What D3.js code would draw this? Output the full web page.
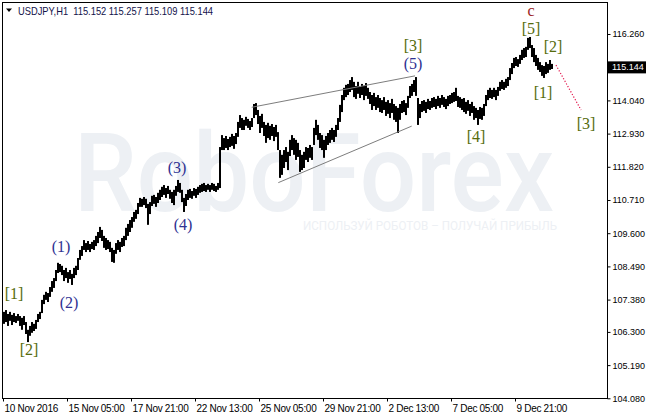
<!DOCTYPE html>
<html><head><meta charset="utf-8">
<script src="https://cdn.jsdelivr.net/npm/d3@7"></script>
<style>html,body{margin:0;padding:0;background:#fff;overflow:hidden}svg{display:block}</style>
</head><body><svg id="c" width="646" height="414"></svg>
<script>
// ---- data (2-hour bars, USDJPY H1 chart) ----
const symbolTitle = "USDJPY,H1";
const lastOHLC = [115.152, 115.257, 115.109, 115.144];
const hoursPerBar = 2;
const barHigh = [
106.97,107.03,106.90,106.97,106.87,106.93,106.83,106.90,106.83,106.77,
106.83,106.63,106.37,106.50,106.63,106.57,106.70,106.90,106.97,107.37,
107.54,107.64,107.60,107.80,108.00,108.10,108.37,108.61,108.57,108.51,
108.37,108.44,108.30,108.37,108.24,108.44,108.51,108.77,109.04,109.17,
109.37,109.27,109.34,109.24,109.31,109.37,109.51,109.64,109.81,109.71,
109.51,109.44,109.37,109.31,109.11,109.04,109.27,109.37,109.31,109.44,
109.51,109.78,109.91,110.04,110.14,110.31,110.38,110.61,110.78,110.75,
110.81,110.75,110.58,110.64,110.85,110.88,110.81,110.95,111.05,111.15,
111.21,111.11,111.18,111.05,110.98,111.05,111.18,111.38,111.28,111.05,
110.78,110.91,111.05,111.08,111.01,111.11,111.08,111.15,111.21,111.25,
111.28,111.21,111.25,111.21,111.28,111.25,111.18,111.28,112.48,112.88,
112.78,112.85,112.75,112.82,112.92,112.85,112.95,113.32,113.55,113.45,
113.39,113.49,113.42,113.35,113.45,113.92,113.95,113.72,113.52,113.59,
113.32,113.22,113.29,113.19,113.25,113.15,113.22,112.98,112.38,112.22,
112.38,112.48,112.32,112.72,112.88,112.78,112.72,112.62,112.38,112.22,
112.32,112.48,112.45,112.55,112.48,113.12,113.39,113.22,112.95,112.88,
112.72,112.85,112.95,113.05,113.12,113.05,113.22,113.45,113.89,114.22,
114.46,114.56,114.59,114.72,114.82,114.66,114.52,114.66,114.49,114.59,
114.52,114.62,114.46,114.32,114.22,114.29,114.15,114.22,114.12,114.05,
114.15,113.99,114.05,113.95,114.09,113.92,113.85,113.79,113.92,114.02,
114.05,113.95,114.19,114.52,114.59,114.72,114.82,114.12,113.92,114.02,
114.05,113.99,114.09,114.02,114.12,114.15,114.09,114.19,114.12,114.22,
114.15,114.09,114.19,114.22,114.29,114.32,114.46,114.19,114.15,114.09,
114.12,113.99,114.05,113.92,113.99,113.85,113.79,113.72,113.82,113.79,
113.92,114.22,114.39,114.46,114.39,114.46,114.39,114.49,114.66,114.72,
114.66,114.76,114.82,115.12,115.29,115.46,115.49,115.42,115.56,115.73,
115.79,115.83,116.13,116.16,115.89,115.79,115.56,115.46,115.32,115.22,
115.19,115.32,115.26,115.39,115.26];
const barLow = [
106.57,106.63,106.50,106.67,106.53,106.63,106.60,106.67,106.50,106.37,
106.53,106.23,105.96,106.17,106.27,106.33,106.40,106.63,106.73,106.93,
107.23,107.37,107.30,107.47,107.64,107.77,108.00,108.27,108.30,108.20,
108.00,108.10,107.94,108.07,107.87,108.10,108.20,108.37,108.71,108.84,
109.04,108.97,109.04,108.97,109.07,109.04,109.17,109.27,109.44,109.34,
109.11,109.04,109.07,108.97,108.64,108.61,108.91,109.04,108.97,109.14,
109.17,109.37,109.51,109.64,109.78,109.98,110.08,110.24,110.48,110.48,
110.54,110.44,109.88,110.24,110.51,110.58,110.48,110.61,110.71,110.81,
110.88,110.78,110.91,110.75,110.61,110.54,110.85,110.98,110.95,110.64,
110.31,110.51,110.71,110.78,110.75,110.85,110.78,110.88,110.95,110.98,
111.01,110.98,111.05,110.98,111.05,111.01,110.98,111.05,111.11,112.38,
112.38,112.45,112.38,112.48,112.52,112.42,112.58,112.82,113.12,113.05,
113.05,113.19,113.12,113.05,113.15,113.45,113.55,113.25,112.95,113.12,
112.85,112.62,112.78,112.72,112.85,112.68,112.82,112.38,111.45,111.55,
111.78,111.98,111.71,112.18,112.38,112.22,112.05,112.15,111.65,111.71,
111.78,112.05,111.98,112.12,112.05,112.55,112.88,112.72,112.45,112.38,
112.12,112.38,112.55,112.62,112.72,112.65,112.82,113.05,113.32,113.65,
114.05,114.15,114.22,114.32,114.39,114.15,114.09,114.26,114.12,114.22,
114.05,114.19,114.09,113.92,113.72,113.85,113.72,113.79,113.65,113.62,
113.72,113.52,113.59,113.45,113.62,113.39,113.32,112.95,113.39,113.62,
113.65,113.55,113.79,114.12,114.19,114.32,114.19,113.22,113.45,113.65,
113.69,113.62,113.75,113.72,113.79,113.82,113.75,113.85,113.79,113.89,
113.82,113.75,113.85,113.92,113.95,113.99,114.02,113.82,113.79,113.72,
113.65,113.59,113.69,113.52,113.62,113.39,113.45,113.22,113.42,113.39,
113.52,113.85,114.05,114.12,114.09,114.15,114.05,114.19,114.36,114.42,
114.39,114.46,114.52,114.72,114.92,115.12,115.19,115.16,115.26,115.39,
115.46,115.49,115.73,115.79,115.49,115.32,115.19,115.06,114.99,114.86,
114.79,114.92,114.96,115.06,115.09];
const timeTickHours = [0,64,128,192,256,320,384,448,512];
const timeTickLabels = ["10 Nov 2016","15 Nov 05:00","17 Nov 21:00","22 Nov 13:00","25 Nov 05:00","29 Nov 21:00","2 Dec 13:00","7 Dec 05:00","9 Dec 21:00"];
const priceTicks = [116.26,114.04,112.93,111.82,110.71,109.60,108.49,107.38,106.30,105.19,104.08];
const waveText   = ["[1]","[2]","(1)","(2)","(3)","(4)","[3]","(5)","[4]","c","[5]","[2]","[1]","[3]"];
const waveDegree = ["minor","minor","minute","minute","minute","minute","minor","minute","minor","inter","minor","minor","minor","minor"];
const waveHour   = [11,26,58,66,174,180,410,410,473,528,528,550,540,583];
const wavePrice  = [107.60,105.70,109.14,107.27,111.78,109.88,115.86,115.29,112.82,117.03,116.46,115.83,114.32,113.28];
const wedgeUpperHour = [248.7,412], wedgeUpperPrice = [113.81,114.86];
const wedgeLowerHour = [275.3,408.7], wedgeLowerPrice = [111.29,113.18];
const forecastHour = [553,578], forecastPrice = [115.22,113.72];

// ---- drawing ----
const svg = d3.select("#c");
const L=3, R=607, T=3, B=399;
const x = d3.scaleLinear().domain([0, R-L]).range([L, R]);
const y = d3.scaleLinear().domain([104.057, 117.296]).range([B, T]);
const uiFont = "'Liberation Sans', Arial, sans-serif";

// watermark
const wm = svg.append("g").attr("fill","#edf0f4");
wm.append("text").attr("x",74).attr("y",211).attr("font-family","Roboto, 'Liberation Sans', sans-serif")
  .attr("font-weight",500).attr("font-size",110).attr("textLength",480).attr("lengthAdjust","spacingAndGlyphs")
  .text("RoboForex");
wm.append("text").attr("x",303).attr("y",230).attr("font-family","Roboto, 'Liberation Sans', sans-serif")
  .attr("font-size",13.5).attr("textLength",254).attr("lengthAdjust","spacingAndGlyphs")
  .text("ИСПОЛЬЗУЙ РОБОТОВ – ПОЛУЧАЙ ПРИБЫЛЬ");

// bars
const n = Math.min(barHigh.length, barLow.length);
svg.append("g").selectAll("rect").data(d3.range(n)).join("rect")
  .attr("x", i => x(i*hoursPerBar))
  .attr("width", x(hoursPerBar) - x(0))
  .attr("y", i => y(barHigh[i]))
  .attr("height", i => Math.max(1, y(barLow[i]) - y(barHigh[i])))
  .attr("fill", "#000");

// wedge lines
const lineGen = d3.line().x(d => x(d[0])).y(d => y(d[1]));
svg.append("path").attr("d", lineGen(d3.zip(wedgeUpperHour, wedgeUpperPrice)))
  .attr("stroke","#7d7d7d").attr("stroke-width",1).attr("fill","none");
svg.append("path").attr("d", lineGen(d3.zip(wedgeLowerHour, wedgeLowerPrice)))
  .attr("stroke","#7d7d7d").attr("stroke-width",1).attr("fill","none");
// forecast dotted
svg.append("path").attr("d", lineGen(d3.zip(forecastHour, forecastPrice)))
  .attr("stroke","#e3164c").attr("stroke-width",1.2).attr("stroke-dasharray","1.2,1.8").attr("fill","none");

// wave labels
const degColor = {minor:"#566b0c", minute:"#2e3192", inter:"#9a2222"};
svg.append("g").selectAll("text").data(d3.range(waveText.length)).join("text")
  .attr("x", i => x(waveHour[i])).attr("y", i => y(wavePrice[i]))
  .attr("text-anchor","middle").attr("dominant-baseline","central")
  .attr("font-family","'Liberation Serif', 'Times New Roman', serif").attr("font-size",16)
  .attr("fill", i => degColor[waveDegree[i]])
  .text(i => waveText[i]);

// frame
svg.append("rect").attr("x",L-0.5).attr("y",T-0.5).attr("width",R-L+1).attr("height",B-T)
  .attr("fill","none").attr("stroke","#000").attr("stroke-width",1);

// right price axis
const ya = svg.append("g").attr("transform",`translate(${R+0.5},0)`)
  .call(d3.axisRight(y).tickValues(priceTicks).tickSize(3).tickPadding(2).tickFormat(d3.format(".3f")));
ya.select(".domain").remove();
ya.selectAll("line").attr("stroke","#000");
ya.selectAll("text").attr("font-family",uiFont).attr("font-size",9).attr("fill","#000");

// bottom time axis
const xa = svg.append("g").attr("transform",`translate(0,${B-0.5})`)
  .call(d3.axisBottom(x).tickValues(timeTickHours).tickSize(3).tickPadding(3).tickFormat((d,i)=>timeTickLabels[i]));
xa.select(".domain").remove();
xa.selectAll("line").attr("stroke","#000");
xa.selectAll("text").attr("text-anchor","start").attr("x",1).attr("font-family",uiFont).attr("font-size",10)
  .attr("letter-spacing",-0.3).attr("fill","#000");

// current price box
const lp = lastOHLC[3];
svg.append("rect").attr("x",R+1).attr("y",y(lp)-6).attr("width",646-R).attr("height",12).attr("fill","#000");
svg.append("text").attr("x",R+5).attr("y",y(lp)).attr("dominant-baseline","central")
  .attr("font-family",uiFont).attr("font-size",9).attr("fill","#fff")
  .text(d3.format(".3f")(lp));

// title
svg.append("path").attr("d","M6,8.5 L12,8.5 L9,12 Z").attr("fill","#000");
svg.append("text").attr("x",18).attr("y",14.5).attr("font-family",uiFont).attr("font-size",10.5)
  .attr("textLength",195).attr("lengthAdjust","spacingAndGlyphs").attr("fill","#12124a").attr("xml:space","preserve")
  .text(symbolTitle + "  " + lastOHLC.map(d3.format(".3f")).join(" "));
</script></body></html>
